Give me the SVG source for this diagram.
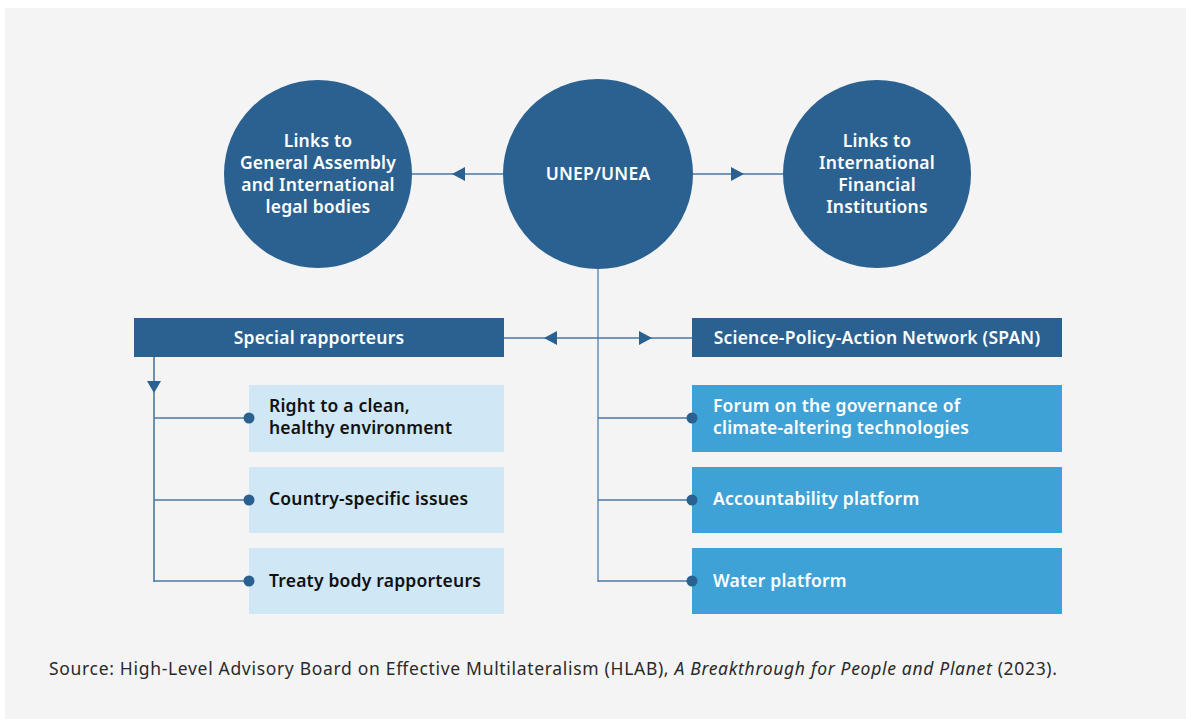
<svg xmlns="http://www.w3.org/2000/svg" width="1186" height="719" viewBox="0 0 1186 719">
<defs>
<style>
.t{font-family:"Noto Sans","Liberation Sans",sans-serif;font-weight:600;font-size:17.5px;letter-spacing:0.2px}
.w{fill:#ffffff}
.k{fill:#111111}
.dk{fill:#2b6190}
.lt{fill:#d0e7f5}
.md{fill:#3ea2d6}
.ln{stroke:#4a78a3;stroke-width:1.6;fill:none}
.lv{stroke:#8aa9c6;stroke-width:2;fill:none}
.ar{fill:#2b6190}
</style>
</defs>
<rect width="1186" height="719" fill="#ffffff"/>
<rect x="5" y="8" width="1181" height="711" fill="#f4f4f4"/>

<g id="unep">
<circle class="dk" cx="598" cy="174" r="95"/>
<text class="t w" x="598" y="180" text-anchor="middle">UNEP/UNEA</text>
</g>
<g id="ga">
<circle class="dk" cx="318" cy="174" r="94"/>
<text class="t w" text-anchor="middle"><tspan x="318" y="147">Links to</tspan><tspan x="318" y="169">General Assembly</tspan><tspan x="318" y="191">and International</tspan><tspan x="318" y="213">legal bodies</tspan></text>
</g>
<g id="ifi">
<circle class="dk" cx="877" cy="174" r="94"/>
<text class="t w" text-anchor="middle"><tspan x="877" y="147">Links to</tspan><tspan x="877" y="169">International</tspan><tspan x="877" y="191">Financial</tspan><tspan x="877" y="213">Institutions</tspan></text>
</g>

<g id="special">
<rect class="dk" x="134" y="318" width="370" height="39"/>
<text class="t w" x="319" y="344" text-anchor="middle">Special rapporteurs</text>
</g>
<g id="span">
<rect class="dk" x="692" y="318" width="370" height="39"/>
<text class="t w" x="877" y="344" text-anchor="middle">Science-Policy-Action Network (SPAN)</text>
</g>

<g id="right-clean">
<rect class="lt" x="249" y="385" width="255" height="67"/>
<text class="t k"><tspan x="269" y="412">Right to a clean,</tspan><tspan x="269" y="434">healthy environment</tspan></text>
</g>
<g id="country">
<rect class="lt" x="249" y="467" width="255" height="66"/>
<text class="t k" x="269" y="505">Country-specific issues</text>
</g>
<g id="treaty">
<rect class="lt" x="249" y="548" width="255" height="66"/>
<text class="t k" x="269" y="587">Treaty body rapporteurs</text>
</g>

<g id="forum">
<rect class="md" x="692" y="385" width="370" height="67"/>
<text class="t w"><tspan x="713" y="412">Forum on the governance of</tspan><tspan x="713" y="434">climate-altering technologies</tspan></text>
</g>
<g id="accountability">
<rect class="md" x="692" y="467" width="370" height="66"/>
<text class="t w" x="713" y="505">Accountability platform</text>
</g>
<g id="water">
<rect class="md" x="692" y="548" width="370" height="66"/>
<text class="t w" x="713" y="587">Water platform</text>
</g>

<g id="connectors">
<line class="ln" x1="412" y1="174" x2="503" y2="174"/>
<line class="ln" x1="693" y1="174" x2="783" y2="174"/>
<polygon class="ar" points="452,174 465,167 465,181"/>
<polygon class="ar" points="744,174 731,167 731,181"/>
<line class="lv" x1="598" y1="269" x2="598" y2="582"/>
<line class="ln" x1="504" y1="338" x2="692" y2="338"/>
<polygon class="ar" points="544,338 557,331 557,345"/>
<polygon class="ar" points="652,338 639,331 639,345"/>
<line class="ln" x1="598" y1="418" x2="692" y2="418"/>
<line class="ln" x1="598" y1="500" x2="692" y2="500"/>
<line class="ln" x1="598" y1="581" x2="692" y2="581"/>
<circle class="ar" cx="692" cy="418" r="5.5"/>
<circle class="ar" cx="692" cy="500" r="5.5"/>
<circle class="ar" cx="692" cy="581" r="5.5"/>
<line class="ln" x1="154" y1="357" x2="154" y2="582"/>
<polygon class="ar" points="147,381 161,381 154,393"/>
<line class="ln" x1="154" y1="418" x2="249" y2="418"/>
<line class="ln" x1="154" y1="500" x2="249" y2="500"/>
<line class="ln" x1="154" y1="581" x2="249" y2="581"/>
<circle class="ar" cx="249" cy="418" r="5.5"/>
<circle class="ar" cx="249" cy="500" r="5.5"/>
<circle class="ar" cx="249" cy="581" r="5.5"/>
</g>

<text x="49" y="675" font-family="Noto Sans, Liberation Sans, sans-serif" font-size="17.5" fill="#2a2a2a" textLength="1008" lengthAdjust="spacing">Source: High-Level Advisory Board on Effective Multilateralism (HLAB), <tspan font-style="italic">A Breakthrough for People and Planet</tspan> (2023).</text>
</svg>
